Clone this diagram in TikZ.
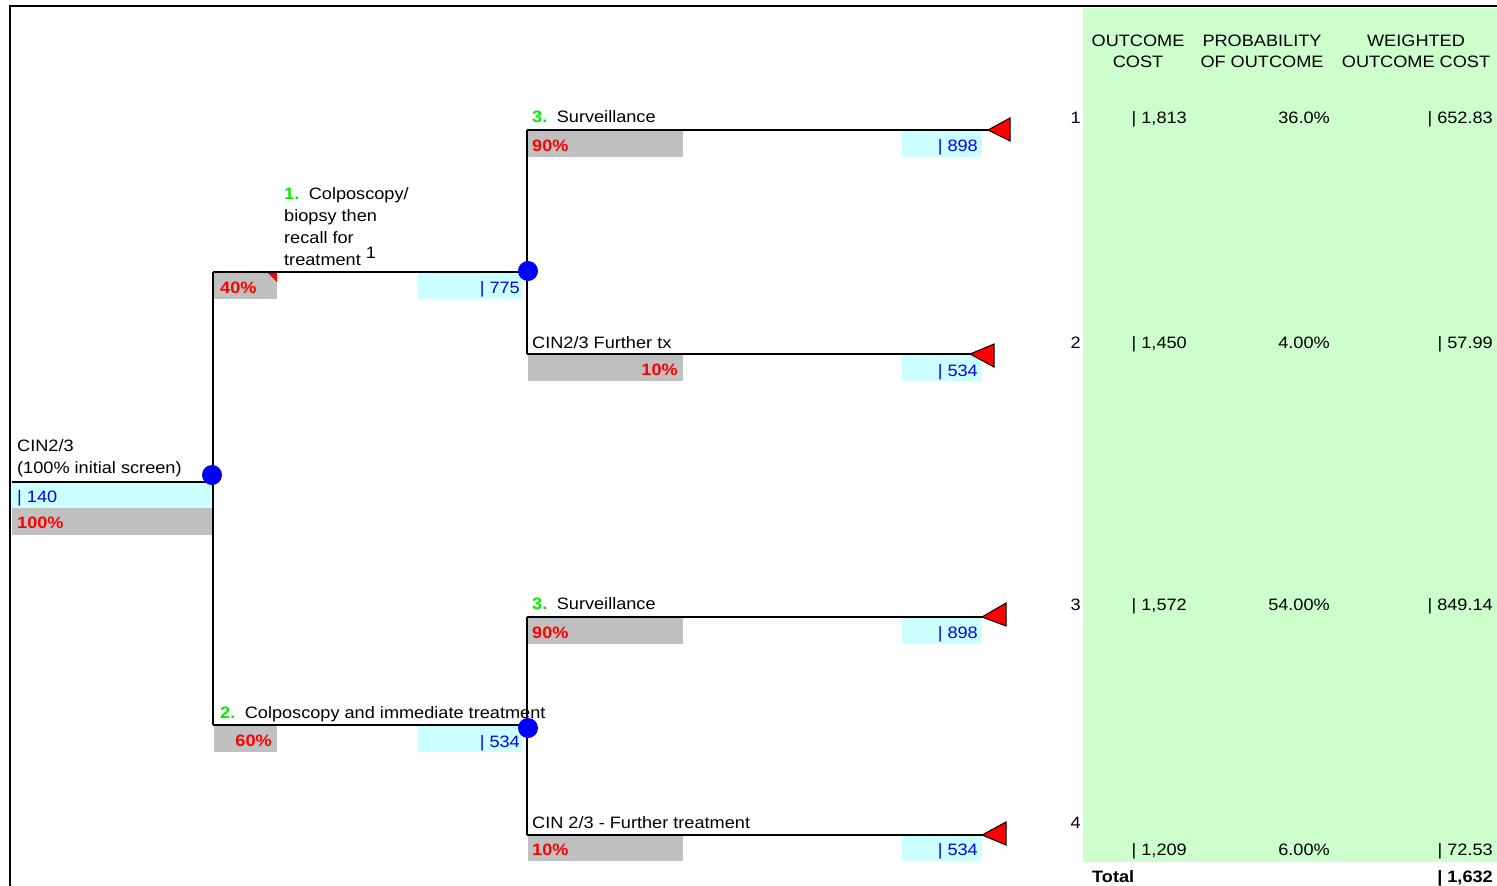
\documentclass[tikz,border=0pt]{standalone}
\usepackage{fontspec}
\setmainfont[FakeStretch=1.1]{Liberation Sans}
\definecolor{panelgreen}{HTML}{CCFFCC}
\definecolor{cyanbg}{HTML}{CCFFFF}
\definecolor{graybg}{HTML}{C0C0C0}
\definecolor{numgreen}{HTML}{00EE00}
\begin{document}
\begin{tikzpicture}[x=1pt,y=-1pt,
  every node/.style={inner sep=0pt, font=\fontsize{16.5}{19}\selectfont},
  lbl/.style={anchor=base west},
  lblr/.style={anchor=base east},
  lblc/.style={anchor=base},
  pct/.style={text=red, font=\fontsize{16.5}{19}\selectfont\bfseries},
  cost/.style={text=blue},
  graybox/.style={fill=graybg, draw=none},
  cyanbox/.style={fill=cyanbg, draw=none},
  chance/.style={circle, fill=blue, minimum size=20pt, inner sep=0pt},
  edge/.style={draw=black, line width=1.6pt},
  termtri/.style={fill=red, draw=black, line width=1pt, line join=miter}
]
\useasboundingbox (0,0) rectangle (1497,886);
\fill[white] (0,0) rectangle (1497,886);
% green panel
\fill[panelgreen] (1083,8) rectangle (1497,862);
% frame
\draw[line width=2pt] (10,886) -- (10,6) -- (1497,6);

% coordinates
\coordinate (r0) at (12,482);
\coordinate (v0) at (213,482);
\coordinate (v0t) at (213,272);
\coordinate (v0b) at (213,725);
\coordinate (b1) at (527,272);
\coordinate (b2) at (527,725);
\coordinate (v1t) at (527,130);
\coordinate (v1b) at (527,354);
\coordinate (v2t) at (527,617);
\coordinate (v2b) at (527,835);
\coordinate (t1) at (988,130);
\coordinate (t2) at (970,354);
\coordinate (t3) at (982,617);
\coordinate (t4) at (982,835);

% boxes under branches
\fill[cyanbox] (12,483) rectangle (212,508);
\fill[graybox] (12,508) rectangle (212,535);
\fill[graybox] (214,273) rectangle (277,299);
\fill[red] (268,273) -- (277,273) -- (277,282) -- cycle;
\fill[cyanbox] (418,273) rectangle (522,299);
\fill[graybox] (214,726) rectangle (277,752);
\fill[cyanbox] (418,726) rectangle (522,752);
\fill[graybox] (528,131) rectangle (683,157);
\fill[cyanbox] (902,131) rectangle (982,157);
\fill[graybox] (528,355) rectangle (683,381);
\fill[cyanbox] (902,355) rectangle (982,381);
\fill[graybox] (528,618) rectangle (683,644);
\fill[cyanbox] (902,618) rectangle (982,644);
\fill[graybox] (528,836) rectangle (683,861);
\fill[cyanbox] (902,836) rectangle (982,861);

% tree lines
\draw[edge] (r0) -- (v0);
\draw[edge] (v0t) -- (v0b);
\draw[edge] (v0t) -- (b1);
\draw[edge] (v0b) -- (b2);
\draw[edge] (v1t) -- (v1b);
\draw[edge] (v2t) -- (v2b);
\draw[edge] (v1t) -- (t1);
\draw[edge] (v1b) -- (t2);
\draw[edge] (v2t) -- (t3);
\draw[edge] (v2b) -- (t4);

% chance nodes
\node[chance] (c0) at (212,475) {};
\node[chance] (c1) at (528,271) {};
\node[chance] (c2) at (528,728) {};

% terminal triangles
\filldraw[termtri] (t1) -- ++(22,-12) -- ++(0,23) -- cycle;
\filldraw[termtri] (t2) -- ++(24,-10) -- ++(0,23) -- cycle;
\filldraw[termtri] (t3) -- ++(24,-14) -- ++(0,23) -- cycle;
\filldraw[termtri] (t4) -- ++(24,-13) -- ++(0,23) -- cycle;

% root labels
\node[lbl] (rootA) at (17,451) {CIN2/3};
\node[lbl] (rootB) at (17,473) {(100\% initial screen)};
\node[lbl, cost] (rootC) at (17,502) {| 140};
\node[lbl, pct] (rootP) at (17,528) {100\%};

% branch 1
\node[lbl] (b1a) at (284,199) {\textcolor{numgreen}{\bfseries 1.}\, Colposcopy/};
\node[lbl] (b1b) at (284,221) {biopsy then};
\node[lbl] (b1c) at (284,243) {recall for};
\node[lbl] (b1d) at (284,265) {treatment \raisebox{7pt}{1}};
\node[lbl, pct] (b1p) at (220,293) {40\%};
\node[lblr, cost] (b1k) at (520,293) {| 775};

% branch 2
\node[lbl] (b2a) at (220,718) {\textcolor{numgreen}{\bfseries 2.}\, Colposcopy and immediate treatment};
\node[lblr, pct] (b2p) at (272,746) {60\%};
\node[lblr, cost] (b2k) at (520,747) {| 534};

% branch 1a
\node[lbl] (s1) at (532,122) {\textcolor{numgreen}{\bfseries 3.}\, Surveillance};
\node[lbl, pct] (s1p) at (532,151) {90\%};
\node[lblr, cost] (s1k) at (978,151) {| 898};

% branch 1b
\node[lbl] (f1) at (532,348) {CIN2/3 Further tx};
\node[lblr, pct] (f1p) at (678,375) {10\%};
\node[lblr, cost] (f1k) at (978,376) {| 534};

% branch 2a
\node[lbl] (s2) at (532,609) {\textcolor{numgreen}{\bfseries 3.}\, Surveillance};
\node[lbl, pct] (s2p) at (532,638) {90\%};
\node[lblr, cost] (s2k) at (978,638) {| 898};

% branch 2b
\node[lbl] (f2) at (532,828) {CIN 2/3 - Further treatment};
\node[lbl, pct] (f2p) at (532,855) {10\%};
\node[lblr, cost] (f2k) at (978,855) {| 534};

% table header
\node[lblc] (h1a) at (1138,46) {OUTCOME};
\node[lblc] (h1b) at (1138,67) {COST};
\node[lblc] (h2a) at (1262,46) {PROBABILITY};
\node[lblc] (h2b) at (1262,67) {OF OUTCOME};
\node[lblc] (h3a) at (1416,46) {WEIGHTED};
\node[lblc] (h3b) at (1416,67) {OUTCOME COST};

% rows
\node[lblr] (n1) at (1081,123) {1};
\node[lblr] (k1) at (1187,123) {| 1,813};
\node[lblr] (p1) at (1330,123) {36.0\%};
\node[lblr] (w1) at (1493,123) {| 652.83};

\node[lblr] (n2) at (1081,348) {2};
\node[lblr] (k2) at (1187,348) {| 1,450};
\node[lblr] (p2) at (1330,348) {4.00\%};
\node[lblr] (w2) at (1493,348) {| 57.99};

\node[lblr] (n3) at (1081,610) {3};
\node[lblr] (k3) at (1187,610) {| 1,572};
\node[lblr] (p3) at (1330,610) {54.00\%};
\node[lblr] (w3) at (1493,610) {| 849.14};

\node[lblr] (n4) at (1081,828) {4};
\node[lblr] (k4) at (1187,855) {| 1,209};
\node[lblr] (p4) at (1330,855) {6.00\%};
\node[lblr] (w4) at (1493,855) {| 72.53};

\node[lbl, font=\fontsize{16.5}{19}\selectfont\bfseries] (tot) at (1092,882) {Total};
\node[lblr, font=\fontsize{16.5}{19}\selectfont\bfseries] (totv) at (1493,882) {| 1,632};
\end{tikzpicture}
\end{document}
